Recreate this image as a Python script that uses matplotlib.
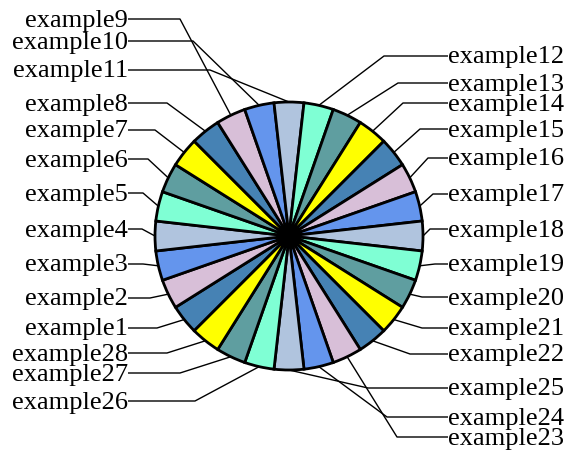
import matplotlib
matplotlib.use("Agg")
import matplotlib.pyplot as plt
import numpy as np

# Data
labels = [f"example{i}" for i in range(1, 29)]
values = [1] * 28
palette = ["#4682B4", "#D8BFD8", "#6495ED", "#B0C4DE", "#7FFFD4", "#5F9EA0", "#FFFF00"]
colors = [palette[i % 7] for i in range(28)]

# Layout (pixel coordinates, y measured from top)
W, H = 566, 451
cx, cy, R = 289, 236, 134
# label line y and knee x for each label (index = example number - 1)
label_y = {1: 328, 2: 298, 3: 264, 4: 229, 5: 193, 6: 159, 7: 130, 8: 103, 9: 19, 10: 41, 11: 70,
           12: 56, 13: 83, 14: 103, 15: 129, 16: 158, 17: 194, 18: 229, 19: 264, 20: 297,
           21: 328, 22: 354, 23: 437, 24: 417, 25: 388, 26: 401, 27: 373, 28: 353}
knee_x = {1: 157, 2: 150, 3: 143, 4: 142, 5: 143, 6: 148, 7: 155, 8: 167, 9: 180, 10: 193, 11: 210,
          12: 384, 13: 398, 14: 403, 15: 420, 16: 428, 17: 433, 18: 430, 19: 435, 20: 422,
          21: 422, 22: 410, 23: 397, 24: 387, 25: 368, 26: 195, 27: 180, 28: 167}
left_text_x = 128
right_text_x = 448

fig = plt.figure(figsize=(W / 100, H / 100), dpi=100)
ax = fig.add_axes([0, 0, 1, 1])

wedges, _ = ax.pie(values, colors=colors, startangle=225, counterclock=False,
                   center=(cx, H - cy), radius=R,
                   wedgeprops=dict(edgecolor="black", linewidth=2.0))
ax.set_xlim(0, W)
ax.set_ylim(0, H)
ax.set_aspect("equal")
ax.axis("off")

font = dict(family=["Liberation Serif", "DejaVu Serif"], fontsize=19)
for i, (w, lab) in enumerate(zip(wedges, labels)):
    n = i + 1
    mid = np.deg2rad((w.theta1 + w.theta2) / 2)
    ex = cx + R * np.cos(mid)
    ey = (H - cy) + R * np.sin(mid)
    ly = H - label_y[n]
    kx = knee_x[n]
    right = np.cos(mid) > 1e-6 or n in (25, 23, 24)
    if n == 11:
        right = False
    tx = right_text_x if right else left_text_x
    ax.plot([ex, kx, tx], [ey, ly, ly], color="black", lw=1.0, solid_capstyle="butt")
    ax.text(tx, ly - 1.5, lab, ha="left" if right else "right", va="center", **font)

fig.savefig("out.png", dpi=100)
